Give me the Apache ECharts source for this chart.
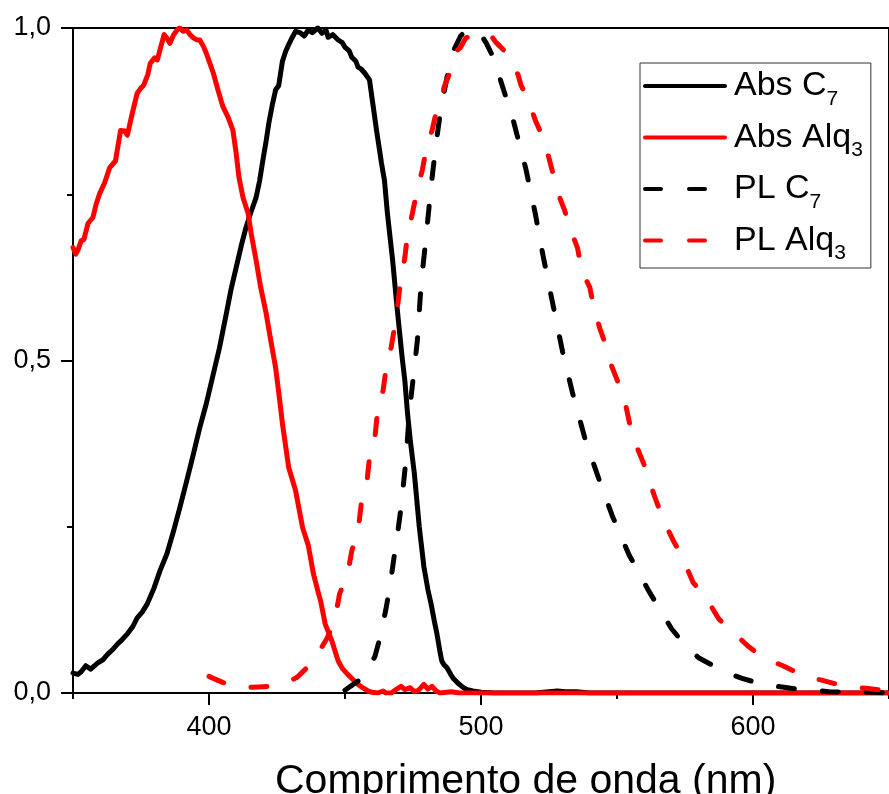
<!DOCTYPE html>
<html>
<head>
<meta charset="utf-8">
<script src="https://cdn.jsdelivr.net/npm/echarts@6/dist/echarts.min.js"></script>
<style>
html,body{margin:0;padding:0;background:#fff;}
#chart{width:889px;height:794px;}
</style>
</head>
<body>
<div id="chart"></div>
<script>
// ---- data ----
const seriesNames = ['Abs C7', 'Abs Alq3', 'PL C7', 'PL Alq3'];
const xTickLabels = [400, 500, 600];
const xMinorTicks = [350, 450, 550, 650];

const absC7_wl = [350,351.8,353,354.7,356.5,359,361,362.7,364.5,366.4,368,370,372,373.6,375.5,377.3,379.8,382,384.5,387,389.3,391.8,394.3,396.6,399,401.6,403.8,406.4,408,410,412,413.6,415.5,417.3,418.6,419.8,421,422,423.3,424.5,425.6,427,428.2,429.3,430.5,431.8,433.5,435,436.5,438,440,441.5,443,443.8,445.5,447.5,449,450,451.5,452.5,454,454.8,456,457.3,459,460.2,461.6,463.4,464.5,465.6,467.5,468.9,470,471,472,473,474,475.5,477.3,479,480.5,481.6,483,483.8,485,485.6,486.5,487.5,489,490,492,493.6,495,497,500,505,520,525,528,531,535,540,650];
const absC7 = [0.030,0.028,0.032,0.041,0.036,0.045,0.050,0.058,0.065,0.074,0.080,0.089,0.100,0.113,0.122,0.134,0.158,0.184,0.209,0.244,0.279,0.319,0.360,0.399,0.435,0.480,0.518,0.571,0.605,0.640,0.675,0.700,0.724,0.745,0.770,0.801,0.830,0.857,0.885,0.907,0.913,0.950,0.965,0.975,0.985,0.995,0.993,0.988,0.997,0.993,1.000,0.992,0.997,0.986,0.990,0.982,0.978,0.971,0.966,0.956,0.950,0.941,0.938,0.932,0.922,0.887,0.846,0.797,0.771,0.721,0.651,0.590,0.545,0.505,0.470,0.420,0.380,0.330,0.250,0.190,0.155,0.135,0.105,0.089,0.060,0.048,0.042,0.038,0.027,0.021,0.013,0.008,0.005,0.003,0.001,0.000,0.000,0.002,0.003,0.002,0.002,0.000,0.000];

const absAlq3_wl = [350,351,351.8,353,354,355.5,357.3,358.5,359.8,361.6,363.5,365.6,367.5,369,370,371.8,373.6,375,376,377.5,378.4,380,381,382.5,383.5,384.5,385.6,387,388.5,389.3,390.5,391.8,393,394.3,395.5,396.6,398,399,400.5,401.6,403.5,404.5,405.2,407,408.8,410,411,412.5,414.4,415.5,417.3,419,421,422.5,423.8,424.5,426,427,429.3,431.8,434.4,436.5,438.4,440.3,441,442.7,445.2,447.5,449,451,453,454.8,456.5,458.5,460,462,464,465,467,469,470.6,472,474,475.5,477,479,480.5,482,483.5,485,489,492,650];
const absAlq3 = [0.670,0.660,0.666,0.680,0.682,0.706,0.715,0.735,0.751,0.767,0.790,0.800,0.846,0.845,0.839,0.872,0.902,0.910,0.914,0.930,0.947,0.955,0.952,0.975,0.990,0.985,0.977,0.990,0.998,1.000,0.995,0.997,0.990,0.985,0.982,0.982,0.972,0.962,0.945,0.932,0.904,0.890,0.881,0.866,0.846,0.811,0.776,0.745,0.721,0.691,0.651,0.610,0.571,0.535,0.505,0.489,0.440,0.405,0.339,0.305,0.249,0.222,0.179,0.149,0.139,0.104,0.078,0.048,0.037,0.028,0.020,0.013,0.008,0.003,0.001,0.000,0.003,0.000,0.000,0.006,0.010,0.005,0.008,0.002,0.004,0.013,0.006,0.010,0.003,0.000,0.002,0.000,0.000];

const plC7_wl = [450,452,454.8,457,459,461,463,465,466.5,468,469.5,470.6,472.5,473.6,475.5,476.6,478,479.8,481.6,483.5,485.2,487.5,490,492.5,494.7,497,499.5,502,504.5,508,511.8,516.5,520,522.7,526.4,530,533.6,538.4,543.4,548.2,554.4,561.6,570,575,580,585,590.7,596,602.7,609,616,622,628,636,645,650];
const plC7 = [0.004,0.010,0.018,0.028,0.040,0.055,0.085,0.125,0.160,0.203,0.245,0.279,0.354,0.420,0.489,0.530,0.616,0.685,0.760,0.827,0.877,0.926,0.967,0.988,0.997,0.998,0.993,0.977,0.956,0.911,0.862,0.788,0.720,0.660,0.585,0.513,0.452,0.380,0.321,0.267,0.208,0.154,0.097,0.072,0.053,0.042,0.030,0.022,0.014,0.010,0.006,0.004,0.002,0.001,0.001,0.000];

const plAlq3_wl = [400,401.6,405,409,413,418,422,425.6,429,432.5,435,438,441,443.5,446.4,448,451,452.5,454.8,456,458,459,461,462,464,465.5,467,469,470,472,473,474.7,476.5,478.4,480,482,483.5,485.6,486.4,489,490,492.5,494.4,497,499.8,503.4,505.6,509,510.7,513.6,514.7,517,520,523,524.5,526.4,528,530.7,533,535.5,537,540,541.6,543.8,546.4,548,550.7,553,554.7,557,559.8,561.6,564.5,567,570.7,573.6,578,582,587.5,591.8,598,603.8,611,617,624.5,633,641.6,646,650];
const plAlq3 = [0.025,0.022,0.016,0.010,0.008,0.009,0.010,0.012,0.016,0.024,0.034,0.046,0.066,0.083,0.113,0.149,0.179,0.214,0.244,0.285,0.315,0.354,0.384,0.425,0.455,0.500,0.520,0.570,0.605,0.655,0.690,0.720,0.756,0.786,0.821,0.846,0.873,0.890,0.911,0.937,0.962,0.971,0.985,0.990,0.992,0.990,0.978,0.964,0.955,0.930,0.914,0.895,0.861,0.833,0.812,0.782,0.755,0.726,0.696,0.669,0.635,0.610,0.577,0.547,0.517,0.492,0.464,0.437,0.404,0.373,0.345,0.321,0.288,0.260,0.229,0.208,0.166,0.148,0.111,0.095,0.071,0.053,0.041,0.029,0.020,0.011,0.007,0.005,0.004];

// ---- chart ----
const zip = (xs, ys) => xs.map((x, i) => [x, ys[i]]);
const FONT = 'Liberation Sans';
const dash = [16, 28];

function mkSeries(name, xs, ys, color, type) {
  return {
    name: name, type: 'line', xAxisIndex: 0, yAxisIndex: 0,
    data: zip(xs, ys), symbol: 'none', showSymbol: false, clip: true,
    itemStyle: { color: color },
    lineStyle: { color: color, width: 5, type: type, cap: 'round', join: 'round' }
  };
}

const chart = echarts.init(document.getElementById('chart'), null, { renderer: 'canvas' });
chart.setOption({
  animation: false,
  backgroundColor: '#ffffff',
  textStyle: { fontFamily: FONT, color: '#000' },
  title: {
    text: 'Comprimento de onda (nm)', left: 275, top: 761, padding: 0,
    textStyle: { fontFamily: FONT, fontSize: 41, fontWeight: 'normal', color: '#000' }
  },
  grid: { left: 73, right: -10, top: 28, bottom: 101, show: true, borderColor: '#000', borderWidth: 2, backgroundColor: 'transparent', containLabel: false },
  legend: {
    orient: 'vertical', left: 640, top: 63,
    padding: [5, 8, 4, 3], itemGap: 10, itemWidth: 80, itemHeight: 14,
    borderColor: '#333', borderWidth: 1, backgroundColor: '#fff',
    itemStyle: { opacity: 0 },
    lineStyle: { width: 4, cap: 'round' },
    data: seriesNames,
    formatter: n => n.replace(/(\d)$/, '{s|$1}'),
    textStyle: {
      fontFamily: FONT, fontSize: 34, lineHeight: 36, color: '#000', padding: [0, 0, 0, 4],
      rich: { s: { fontFamily: FONT, fontSize: 21, lineHeight: 36, height: 8, color: '#000', padding: [26, 0, 0, 0] } }
    }
  },
  xAxis: [
    {
      type: 'value', min: 350, max: 650, position: 'bottom',
      axisLine: { show: true, onZero: false, lineStyle: { color: '#000', width: 2 } },
      splitLine: { show: false },
      axisTick: { show: true, customValues: xTickLabels, length: 12, lineStyle: { color: '#000', width: 2 } },
      axisLabel: { show: true, customValues: xTickLabels, fontSize: 27, color: '#000', margin: 21, fontFamily: FONT }
    },
    {
      type: 'value', min: 350, max: 650, position: 'bottom',
      axisLine: { show: false, onZero: false },
      splitLine: { show: false },
      axisTick: { show: true, customValues: xMinorTicks, length: 6, lineStyle: { color: '#000', width: 2 } },
      axisLabel: { show: false }
    }
  ],
  yAxis: {
    type: 'value', min: 0, max: 1, interval: 0.5,
    axisLine: { show: true, onZero: false, lineStyle: { color: '#000', width: 2 } },
    axisTick: { show: true, length: 12, lineStyle: { color: '#000', width: 2 } },
    minorTick: { show: true, splitNumber: 2, length: 6, lineStyle: { color: '#000', width: 2 } },
    splitLine: { show: false }, minorSplitLine: { show: false },
    axisLabel: { formatter: v => v.toFixed(1).replace('.', ','), fontSize: 27, margin: 22, color: '#000', fontFamily: FONT }
  },
  series: [
    mkSeries(seriesNames[0], absC7_wl, absC7, '#000000', 'solid'),
    mkSeries(seriesNames[1], absAlq3_wl, absAlq3, '#ff0000', 'solid'),
    mkSeries(seriesNames[2], plC7_wl, plC7, '#000000', dash),
    mkSeries(seriesNames[3], plAlq3_wl, plAlq3, '#ff0000', dash)
  ]
});
</script>
</body>
</html>
